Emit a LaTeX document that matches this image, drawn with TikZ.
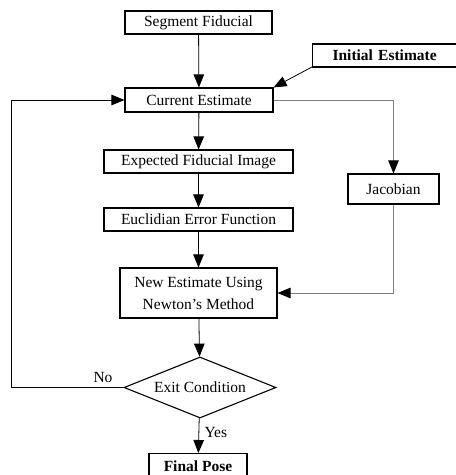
\documentclass[tikz,border=0pt]{standalone}
\usepackage{fontspec}
\setmainfont{Liberation Serif}
\usetikzlibrary{shapes.geometric,arrows.meta}
\begin{document}
\begin{tikzpicture}[x=1pt,y=-1pt,
  txt/.style={font=\fontsize{15.5}{18}\selectfont},
  box/.style={draw,line width=1.1pt,inner sep=0pt,txt},
  tip/.style={-{Triangle[length=13pt,width=10.5pt]}},
  arr/.style={tip,line width=0.8pt},
  garr/.style={arr,draw=black!50,arrows={-{Triangle[length=13pt,width=10.5pt,fill=black,color=black]}}}]
\clip (0,0) rectangle (456,475);
\node[box,minimum width=147pt,minimum height=23pt] (seg) at (198.5,22.5) {Segment Fiducial};
\node[box,minimum width=160pt,minimum height=23pt,font=\fontsize{15.5}{18}\selectfont\bfseries,anchor=west,text width=150pt,align=left] (init) at (312,55.5) {\hspace*{15pt}Initial Estimate};
\node[box,minimum width=148pt,minimum height=24pt] (cur) at (199,100) {Current Estimate};
\node[box,minimum width=189pt,minimum height=23pt] (exp) at (198.5,161.5) {Expected Fiducial Image};
\node[box,minimum width=189pt,minimum height=23pt] (euc) at (198.5,219.5) {Euclidian Error Function};
\node[box,minimum width=91pt,minimum height=30pt] (jac) at (393.5,189) {Jacobian};
\node[box,minimum width=157pt,minimum height=50pt,align=center,font=\fontsize{15.5}{22}\selectfont] (new) at (198.5,293) {New Estimate Using\\Newton’s Method};
\node[box,diamond,aspect=2.5,minimum width=152pt,minimum height=61pt,inner sep=0pt] (exit) at (200,387.5) {};
\node[txt] at (exit.center) {Exit Condition};
\node[box,minimum width=98pt,minimum height=26pt,anchor=north] (fin) at (198,453) {};
\node[font=\fontsize{15.5}{18}\selectfont\bfseries] at (198,466) {Final Pose};
\coordinate (initc) at (312,67);
\draw[arr] (seg) -- (cur);
\draw[arr] (initc) -- (cur.north east);
\draw[arr] (cur) -- (exp);
\draw[arr] (exp) -- (euc);
\draw[arr] (euc) -- (new);
\draw[arr] (new) -- (exit);
\draw[arr] (exit) -- (fin);
\draw[garr] (cur.east) -| (jac.north);
\draw[garr] (jac.south) |- (new.east);
\draw[arr] (exit.west) -- (11,387.5) |- (cur.west);
\node[txt,anchor=south] at (103,386) {No};
\node[txt,anchor=west] at (201,432) {Yes};
\end{tikzpicture}
\end{document}
